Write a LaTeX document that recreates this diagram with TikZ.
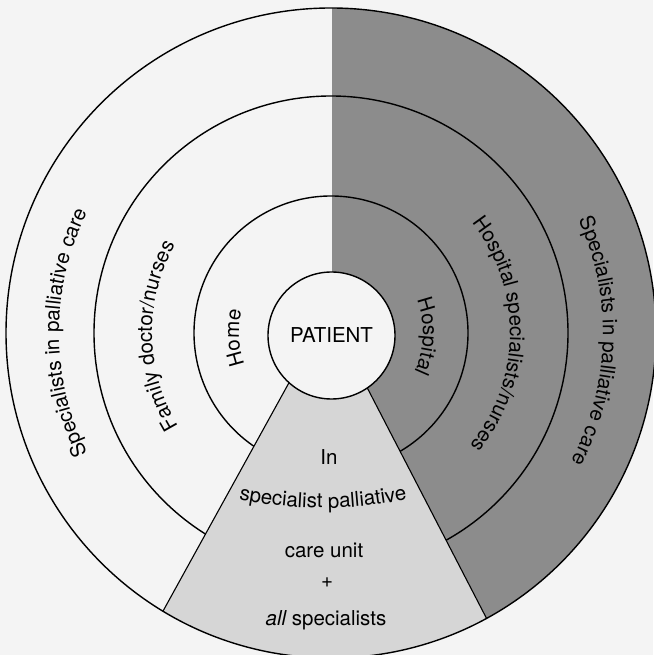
\documentclass[tikz,border=0pt]{standalone}
\usepackage{fontspec}
\setmainfont{TeX Gyre Heros}
\usetikzlibrary{decorations.text}
\definecolor{bgc}{HTML}{F4F4F4}
\definecolor{darkc}{HTML}{8C8C8C}
\definecolor{lightc}{HTML}{D6D6D6}
\newcommand\lblfont{\fontsize{20.5}{24}\selectfont}
\begin{document}
\begin{tikzpicture}[x=1pt,y=1pt,
  ring/.style={draw=black, line width=1.4pt},
  edge/.style={draw=black, line width=1.1pt},
  lbl/.style={font=\lblfont, inner sep=0pt},
  ctext/.style={decorate, decoration={text along path, text align=center, text format delimiters={|}{|}}}]
\useasboundingbox (0,0) rectangle (653,655);
\fill[bgc] (0,0) rectangle (653,655);
\coordinate (C) at (331,322);
\coordinate (apex) at (328,343);
\coordinate (wl) at (125,-25);
\coordinate (wr) at (521,-30);
% dark right half
\begin{scope}
  \clip (C) circle[radius=325pt];
  \fill[darkc] (332,-40) rectangle (700,700);
\end{scope}
% inner rings
\draw[ring] (C) circle[radius=137pt];
\draw[ring] (C) circle[radius=237pt];
% wedge
\begin{scope}
  \clip (C) circle[radius=325pt];
  \fill[lightc] (wl) -- (apex) -- (wr) -- cycle;
  \draw[edge] (wl) -- (apex) -- (wr);
\end{scope}
% patient
\node[circle, draw=black, line width=1.4pt, fill=bgc, minimum size=127pt, inner sep=0pt, font=\lblfont] (patient) at (331.5,319.5) {PATIENT};
% outer ring
\draw[ring] (C) circle[radius=325pt];
% curved labels left
\path[ctext, decoration={text={|\lblfont|Specialists in palliative care}}]
  (C) ++(230:272) arc[start angle=230, end angle=130, radius=272pt];
\path[ctext, decoration={text={|\lblfont|Family doctor/nurses}}]
  (C) ++(241:179) arc[start angle=241, end angle=121, radius=179pt];
\path[ctext, decoration={text={|\lblfont|Home}}]
  (C) ++(250:92) arc[start angle=250, end angle=116, radius=92pt];
% curved labels right
\path[ctext, decoration={text={|\lblfont|Hospital}}]
  (C) ++(65:92) arc[start angle=65, end angle=-69, radius=92pt];
\path[ctext, decoration={text={|\lblfont|Hospital specialists/nurses}}]
  (C) ++(60:179) arc[start angle=60, end angle=-61, radius=179pt];
\path[ctext, decoration={text={|\lblfont|Specialists in palliative care}}]
  (C) ++(50:272) arc[start angle=50, end angle=-53.5, radius=272pt];
% wedge labels
\node[lbl] (in) at (329,197.5) {In};
\coordinate (sc) at (323,547);
\path[ctext, decoration={text={|\lblfont|specialist palliative}}]
  (sc) ++(256:400) arc[start angle=256, end angle=284, radius=400pt];
\node[lbl] (unit) at (324,105) {care unit};
\node[lbl] (plus) at (327,72) {+};
\node[lbl] (all) at (326,35) {{\itshape all} specialists};
\end{tikzpicture}
\end{document}
